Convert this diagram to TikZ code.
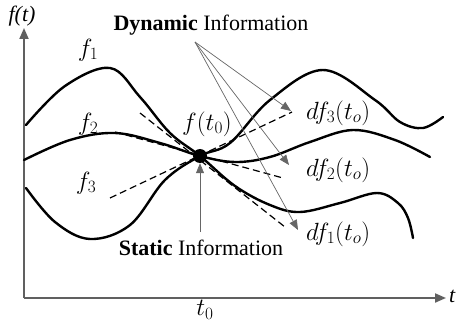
\documentclass[tikz,border=0pt]{standalone}
\usepackage{fontspec}
\setmainfont{Liberation Serif}
\usetikzlibrary{arrows.meta}
\tikzset{
  curve/.style={line width=2.4pt, line cap=round},
  tangent/.style={line width=1.2pt, dash pattern=on 7pt off 4pt},
  pointer/.style={gray!80!black, line width=0.7pt, -{Triangle[length=10pt,width=8pt]}},
  axis/.style={gray!75!black, line width=2pt, -{Triangle[length=11pt,width=9pt]}},
  lbl/.style={font=\fontsize{22}{26}\selectfont, inner sep=1pt},
  mlbl/.style={font=\fontsize{24}{28}\selectfont, inner sep=1pt}
}
\begin{document}
\begin{tikzpicture}[x=1pt,y=-1pt]
	\useasboundingbox (0,0) rectangle (460,323);
	% axes
	\coordinate (O) at (24,298);
	\coordinate (ytop) at (24,28);
	\coordinate (xend) at (446,298);
	\draw[axis] (O) -- (ytop);
	\draw[axis] (O) -- (xend);
	\node[lbl, font=\fontsize{22}{26}\selectfont\itshape] (ft) at (22,16) {f(t)};
	\node[lbl, font=\fontsize{22}{26}\selectfont\itshape, anchor=west] (t) at (448,296) {t};
	\node[mlbl] (t0) at (205,310) {$t_0$};
	% the three functions
	\draw[curve] plot[smooth, tension=0.6] coordinates {(26,125) (65,86) (110,68) (140,97) (170,133) (200,156) (235,186) (270,205) (300,212) (340,203) (377,193) (398,203) (408,218) (413,238)};
	\draw[curve] plot[smooth, tension=0.6] coordinates {(24,160) (70,140) (115,133) (160,143) (200,156) (235,162) (270,157) (310,142) (353,130) (395,140) (430,157)};
	\draw[curve] plot[smooth, tension=0.6] coordinates {(26,188) (55,222) (90,239) (130,225) (165,180) (200,156) (230,143) (270,100) (323,70) (375,100) (400,122) (423,128) (443,117)};
	% tangents at t0
	\draw[tangent] (140,113) -- (285,227);
	\draw[tangent] (115,132) -- (283,178);
	\draw[tangent] (110,198) -- (292,112);
	\node[circle, fill=black, inner sep=0pt, minimum size=14pt] (dot) at (200,156) {};
	\node[mlbl] (fl1) at (88,50) {$f_1$};
	\node[mlbl] (fl2) at (88,124) {$f_2$};
	\node[mlbl] (fl3) at (86,183) {$f_3$};
	\node[mlbl] (ft0) at (207,124) {$f(t_0)$};
	\node[mlbl, anchor=west] (df3) at (305,113) {$df_3(t_o)$};
	\node[mlbl, anchor=west] (df2) at (305,170) {$df_2(t_o)$};
	\node[mlbl, anchor=west] (df1) at (305,234) {$df_1(t_o)$};
	% information labels
	\node[lbl] (dyn) at (211,25) {\textbf{Dynamic} Information};
	\node[lbl] (stat) at (201,248) {\textbf{Static} Information};
	\coordinate (fan) at (195,42);
	\coordinate (tip3) at (291,111);
	\coordinate (tip2) at (289,165);
	\coordinate (tip1) at (298,230);
	\draw[pointer] (fan) -- (tip3);
	\draw[pointer] (fan) -- (tip2);
	\draw[pointer] (fan) -- (tip1);
	\draw[pointer] (200,232) -- (dot.south);
\end{tikzpicture}
\end{document}
